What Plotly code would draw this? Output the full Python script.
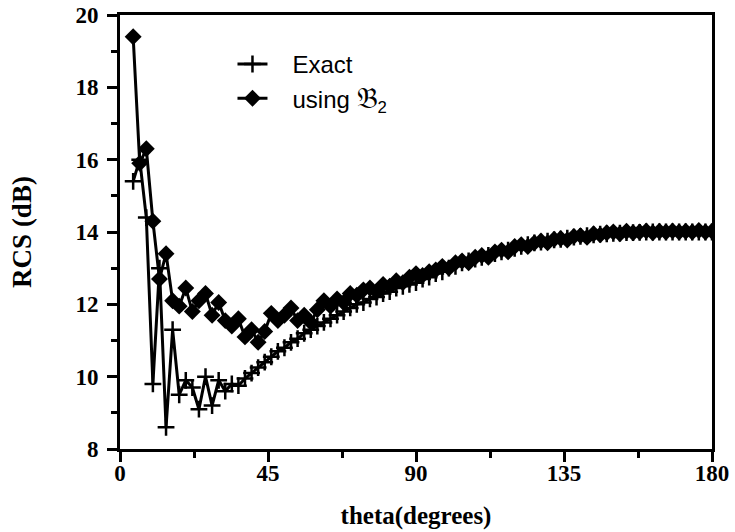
import plotly.graph_objects as go

theta = list(range(4, 181, 2))

exact = [15.4, 16.0, 14.4, 9.8, 13.0, 8.6, 11.3, 9.5, 9.9, 9.7,
         9.1, 10.0, 9.2, 9.9, 9.6, 9.8, 9.75, 9.95, 10.1, 10.25,
         10.4, 10.55, 10.7, 10.8, 10.95, 11.05, 11.2, 11.3, 11.4, 11.5,
         11.6, 11.7, 11.8, 11.9, 12.0, 12.05, 12.15, 12.2, 12.3, 12.35,
         12.45, 12.5, 12.55, 12.6, 12.7, 12.75, 12.85, 12.9, 13.0, 13.05,
         13.15, 13.2, 13.25, 13.3, 13.35, 13.4, 13.45, 13.5, 13.55, 13.6,
         13.65, 13.7, 13.72, 13.75, 13.78, 13.8, 13.83, 13.86, 13.88, 13.9,
         13.92, 13.94, 13.95, 13.96, 13.97, 13.98, 13.98, 13.99, 14.0, 14.0,
         14.0, 14.0, 14.0, 14.0, 14.0, 14.0, 14.0, 14.0, 14.0]

b2 = [19.4, 15.9, 16.3, 14.3, 12.7, 13.4, 12.1, 11.95, 12.45, 11.8,
      12.1, 12.3, 11.7, 12.05, 11.55, 11.4, 11.6, 11.1, 11.3, 10.95,
      11.25, 11.75, 11.55, 11.7, 11.9, 11.55, 11.7, 11.5, 11.85, 12.1,
      11.95, 12.15, 12.05, 12.3, 12.25, 12.4, 12.45, 12.35, 12.55, 12.5,
      12.65, 12.6, 12.75, 12.85, 12.8, 12.9, 12.95, 13.05, 13.0, 13.15,
      13.2, 13.15, 13.3, 13.35, 13.3, 13.45, 13.5, 13.45, 13.6, 13.65,
      13.6, 13.7, 13.75, 13.7, 13.8, 13.82, 13.78, 13.88, 13.9, 13.85,
      13.95, 13.92, 13.98, 14.0, 13.95, 14.02, 13.98, 14.0, 14.03, 13.98,
      14.02, 14.0, 14.03, 14.0, 14.02, 14.0, 14.04, 14.0, 14.02]

x_ticks = [0, 45, 90, 135, 180]
y_ticks = [8, 10, 12, 14, 16, 18, 20]

pad = "\u00a0\u00a0\u00a0"
fig = go.Figure()
fig.add_trace(go.Scatter(
    x=theta, y=exact, mode="lines+markers", name=pad + "Exact",
    line=dict(color="black", width=3),
    marker=dict(symbol="cross-thin", size=12, color="black",
                line=dict(color="black", width=2.5)),
))
fig.add_trace(go.Scatter(
    x=theta, y=b2, mode="lines+markers",
    name=pad + "using <span style='font-size:29px'>𝔅</span><sub>2</sub>",
    line=dict(color="black", width=3),
    marker=dict(symbol="diamond", size=13, color="black"),
))

serif = "Liberation Serif"
fig.update_layout(
    width=735, height=532,
    margin=dict(l=120, r=23, t=15, b=83, autoexpand=False),
    paper_bgcolor="white", plot_bgcolor="white",
    showlegend=True,
    legend=dict(x=0.19, y=0.938, xanchor="left", yanchor="top",
                bgcolor="rgba(0,0,0,0)", borderwidth=0,
                font=dict(family="Liberation Sans", size=24, color="black")),
    xaxis=dict(range=[0, 180], tickvals=x_ticks,
               ticktext=["<b>%d</b>" % v for v in x_ticks],
               ticks="outside", ticklen=10, automargin=False,
               ticklabelstandoff=-9,
               tickwidth=3, tickcolor="black", showgrid=False, zeroline=False,
               showline=True, linecolor="black", linewidth=3, mirror=True,
               minor=dict(dtick=22.5, tick0=0, ticks="outside", ticklen=6,
                          tickwidth=2.5, tickcolor="black", showgrid=False),
               tickfont=dict(family=serif, size=23, color="black"),
               title=dict(text="<b>theta(degrees)</b>", standoff=22,
                          font=dict(family=serif, size=25, color="black"))),
    yaxis=dict(range=[8, 20], tickvals=y_ticks,
               ticktext=["<b>%d</b>" % v for v in y_ticks],
               ticks="outside", ticklen=10, automargin=False,
               ticklabelstandoff=4,
               tickwidth=3, tickcolor="black", showgrid=False, zeroline=False,
               showline=True, linecolor="black", linewidth=3, mirror=True,
               minor=dict(dtick=1, tick0=0, ticks="outside", ticklen=6,
                          tickwidth=2.5, tickcolor="black", showgrid=False),
               tickfont=dict(family=serif, size=23, color="black"),
               title=dict(text="<b>RCS (dB)</b>", standoff=36,
                          font=dict(family=serif, size=27, color="black"))),
)

fig.write_html("out.html")
